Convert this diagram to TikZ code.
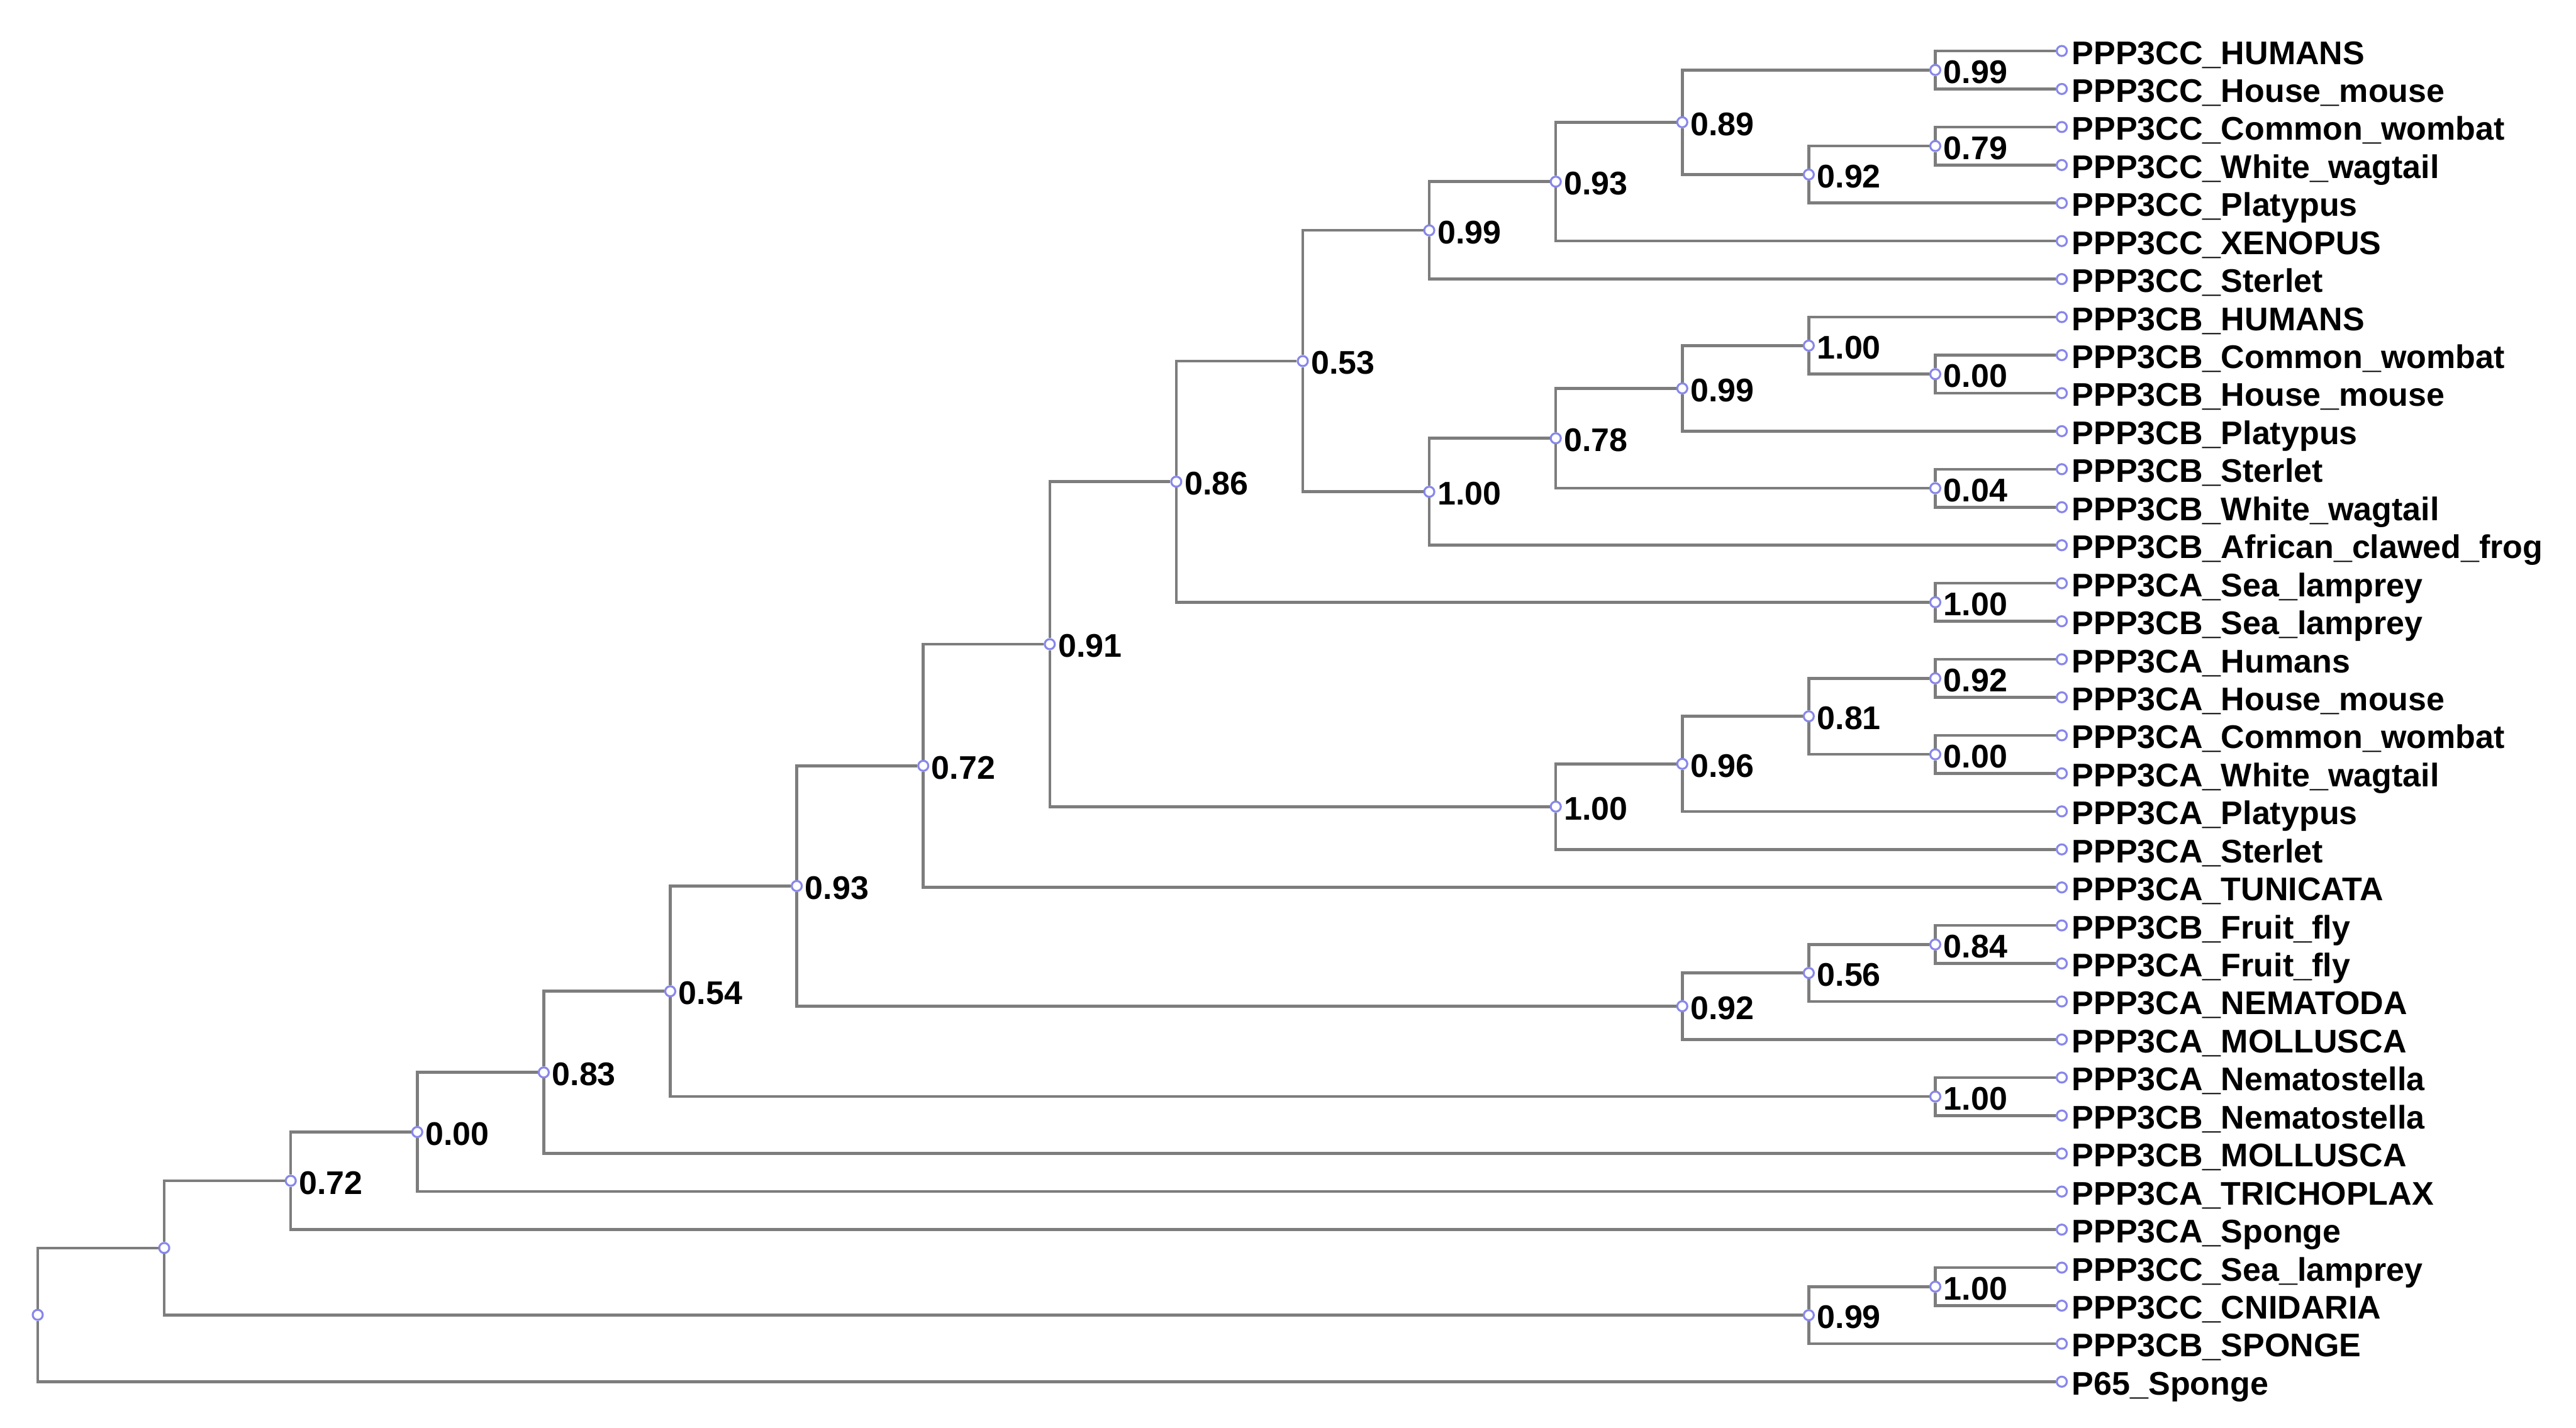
\documentclass[tikz,border=0pt]{standalone}
\usepackage{fontspec}
\setmainfont{Liberation Sans}
\definecolor{branchgray}{RGB}{125,125,125}
\definecolor{knotblue}{RGB}{135,135,235}

\begin{document}
\begin{tikzpicture}[
    x=2.011cm, y=-0.6044cm,
    knot/.style = {circle, draw=knotblue, fill=white, line width=0.9pt,
minimum size=0.16cm, inner sep=0pt},
    tiptext/.style = {anchor=base west, inner sep=0pt, xshift=0.06cm,
yshift=-0.21cm, font=\fontsize{14.8}{16}\selectfont\bfseries},
    tip/.style = {knot, label={[tiptext]right:#1}},
    split/.style = {knot, label={[tiptext, xshift=-0.03cm]right:#1}},
    branch/.style = {draw=branchgray, line width=1.3pt}
]
  \useasboundingbox (-0.2984,-1.340) rectangle (20.065,36.218);

  % leaves
  \node (ccHumans)   [tip={PPP3CC\_HUMANS}]       at (16,0) {};
  \node (ccMouse)    [tip={PPP3CC\_House\_mouse}]  at (16,1) {};
  \node (ccWombat)   [tip={PPP3CC\_Common\_wombat}] at (16,2) {};
  \node (ccWagtail)  [tip={PPP3CC\_White\_wagtail}] at (16,3) {};
  \node (ccPlatypus) [tip={PPP3CC\_Platypus}]     at (16,4) {};
  \node (ccXenopus)  [tip={PPP3CC\_XENOPUS}]      at (16,5) {};
  \node (ccSterlet)  [tip={PPP3CC\_Sterlet}]      at (16,6) {};
  \node (cbHumans)   [tip={PPP3CB\_HUMANS}]       at (16,7) {};
  \node (cbWombat)   [tip={PPP3CB\_Common\_wombat}] at (16,8) {};
  \node (cbMouse)    [tip={PPP3CB\_House\_mouse}]  at (16,9) {};
  \node (cbPlatypus) [tip={PPP3CB\_Platypus}]     at (16,10) {};
  \node (cbSterlet)  [tip={PPP3CB\_Sterlet}]      at (16,11) {};
  \node (cbWagtail)  [tip={PPP3CB\_White\_wagtail}] at (16,12) {};
  \node (cbFrog)     [tip={PPP3CB\_African\_clawed\_frog}] at (16,13) {};
  \node (caLamprey)  [tip={PPP3CA\_Sea\_lamprey}]  at (16,14) {};
  \node (cbLamprey)  [tip={PPP3CB\_Sea\_lamprey}]  at (16,15) {};
  \node (caHumans)   [tip={PPP3CA\_Humans}]       at (16,16) {};
  \node (caMouse)    [tip={PPP3CA\_House\_mouse}]  at (16,17) {};
  \node (caWombat)   [tip={PPP3CA\_Common\_wombat}] at (16,18) {};
  \node (caWagtail)  [tip={PPP3CA\_White\_wagtail}] at (16,19) {};
  \node (caPlatypus) [tip={PPP3CA\_Platypus}]     at (16,20) {};
  \node (caSterlet)  [tip={PPP3CA\_Sterlet}]      at (16,21) {};
  \node (caTunicata) [tip={PPP3CA\_TUNICATA}]     at (16,22) {};
  \node (cbFly)      [tip={PPP3CB\_Fruit\_fly}]    at (16,23) {};
  \node (caFly)      [tip={PPP3CA\_Fruit\_fly}]    at (16,24) {};
  \node (caNematoda) [tip={PPP3CA\_NEMATODA}]     at (16,25) {};
  \node (caMollusca) [tip={PPP3CA\_MOLLUSCA}]     at (16,26) {};
  \node (caStella)   [tip={PPP3CA\_Nematostella}] at (16,27) {};
  \node (cbStella)   [tip={PPP3CB\_Nematostella}] at (16,28) {};
  \node (cbMollusca) [tip={PPP3CB\_MOLLUSCA}]     at (16,29) {};
  \node (caTricho)   [tip={PPP3CA\_TRICHOPLAX}]   at (16,30) {};
  \node (caSponge)   [tip={PPP3CA\_Sponge}]       at (16,31) {};
  \node (ccLamprey)  [tip={PPP3CC\_Sea\_lamprey}]  at (16,32) {};
  \node (ccCnidaria) [tip={PPP3CC\_CNIDARIA}]     at (16,33) {};
  \node (cbSponge)   [tip={PPP3CB\_SPONGE}]       at (16,34) {};
  \node (pSponge)    [tip={P65\_Sponge}]          at (16,35) {};

  % splits
  \node (n099d) [split=0.99] at (15,0.5) {};
  \node (n079)  [split=0.79] at (15,2.5) {};
  \node (n092d) [split=0.92] at (14,3.25) {};
  \node (n089)  [split=0.89] at (13,1.875) {};
  \node (n093b) [split=0.93] at (12,3.4375) {};
  \node (n099a) [split=0.99] at (11,4.71875) {};
  \node (n000c) [split=0.00] at (15,8.5) {};
  \node (n100d) [split=1.00] at (14,7.75) {};
  \node (n099c) [split=0.99] at (13,8.875) {};
  \node (n004)  [split=0.04] at (15,11.5) {};
  \node (n078)  [split=0.78] at (12,10.1875) {};
  \node (n100b) [split=1.00] at (11,11.594) {};
  \node (n053)  [split=0.53] at (10,8.156) {};
  \node (n100l) [split=1.00] at (15,14.5) {};
  \node (n086)  [split=0.86] at (9,11.328) {};
  \node (n092c) [split=0.92] at (15,16.5) {};
  \node (n000b) [split=0.00] at (15,18.5) {};
  \node (n081)  [split=0.81] at (14,17.5) {};
  \node (n096)  [split=0.96] at (13,18.75) {};
  \node (n100a) [split=1.00] at (12,19.875) {};
  \node (n091)  [split=0.91] at (8,15.602) {};
  \node (n072b) [split=0.72] at (7,18.801) {};
  \node (n084)  [split=0.84] at (15,23.5) {};
  \node (n056)  [split=0.56] at (14,24.25) {};
  \node (n092b) [split=0.92] at (13,25.125) {};
  \node (n093)  [split=0.93] at (6,21.963) {};
  \node (n100n) [split=1.00] at (15,27.5) {};
  \node (n054)  [split=0.54] at (5,24.731) {};
  \node (n083)  [split=0.83] at (4,26.866) {};
  \node (n000)  [split=0.00] at (3,28.433) {};
  \node (n072a) [split=0.72] at (2,29.716) {};
  \node (n100c) [split=1.00] at (15,32.5) {};
  \node (n099b) [split=0.99] at (14,33.25) {};
  \node (n1)    [knot]       at (1,31.483) {};
  \node (root)  [knot]       at (0,33.242) {};

  % branches
  \draw[branch] (root) |- (n1)        (root) |- (pSponge);
  \draw[branch] (n1) |- (n072a)       (n1) |- (n099b);
  \draw[branch] (n099b) |- (n100c)    (n099b) |- (cbSponge);
  \draw[branch] (n100c) |- (ccLamprey) (n100c) |- (ccCnidaria);
  \draw[branch] (n072a) |- (n000)     (n072a) |- (caSponge);
  \draw[branch] (n000) |- (n083)      (n000) |- (caTricho);
  \draw[branch] (n083) |- (n054)      (n083) |- (cbMollusca);
  \draw[branch] (n054) |- (n093)      (n054) |- (n100n);
  \draw[branch] (n100n) |- (caStella) (n100n) |- (cbStella);
  \draw[branch] (n093) |- (n072b)     (n093) |- (n092b);
  \draw[branch] (n092b) |- (n056)     (n092b) |- (caMollusca);
  \draw[branch] (n056) |- (n084)      (n056) |- (caNematoda);
  \draw[branch] (n084) |- (cbFly)     (n084) |- (caFly);
  \draw[branch] (n072b) |- (n091)     (n072b) |- (caTunicata);
  \draw[branch] (n091) |- (n086)      (n091) |- (n100a);
  \draw[branch] (n100a) |- (n096)     (n100a) |- (caSterlet);
  \draw[branch] (n096) |- (n081)      (n096) |- (caPlatypus);
  \draw[branch] (n081) |- (n092c)     (n081) |- (n000b);
  \draw[branch] (n092c) |- (caHumans) (n092c) |- (caMouse);
  \draw[branch] (n000b) |- (caWombat) (n000b) |- (caWagtail);
  \draw[branch] (n086) |- (n053)      (n086) |- (n100l);
  \draw[branch] (n100l) |- (caLamprey) (n100l) |- (cbLamprey);
  \draw[branch] (n053) |- (n099a)     (n053) |- (n100b);
  \draw[branch] (n100b) |- (n078)     (n100b) |- (cbFrog);
  \draw[branch] (n078) |- (n099c)     (n078) |- (n004);
  \draw[branch] (n004) |- (cbSterlet) (n004) |- (cbWagtail);
  \draw[branch] (n099c) |- (n100d)    (n099c) |- (cbPlatypus);
  \draw[branch] (n100d) |- (cbHumans) (n100d) |- (n000c);
  \draw[branch] (n000c) |- (cbWombat) (n000c) |- (cbMouse);
  \draw[branch] (n099a) |- (n093b)    (n099a) |- (ccSterlet);
  \draw[branch] (n093b) |- (n089)     (n093b) |- (ccXenopus);
  \draw[branch] (n089) |- (n099d)     (n089) |- (n092d);
  \draw[branch] (n099d) |- (ccHumans) (n099d) |- (ccMouse);
  \draw[branch] (n092d) |- (n079)     (n092d) |- (ccPlatypus);
  \draw[branch] (n079) |- (ccWombat)  (n079) |- (ccWagtail);

\end{tikzpicture}
\end{document}
